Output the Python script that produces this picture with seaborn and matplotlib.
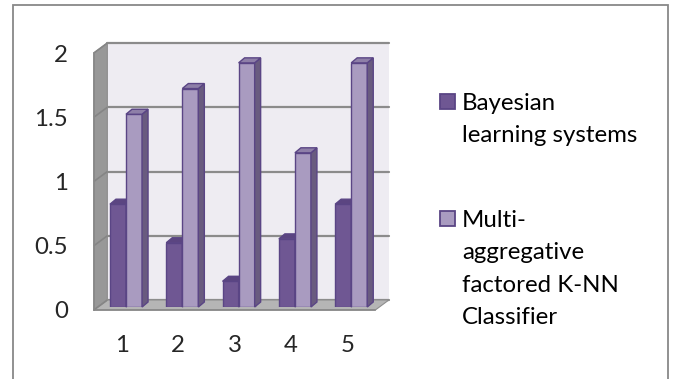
import numpy as np
import pandas as pd
import matplotlib
matplotlib.use("Agg")
import matplotlib.pyplot as plt
from matplotlib.patches import Polygon, Rectangle
import seaborn as sns

# ---- data -------------------------------------------------------------
categories = ["1", "2", "3", "4", "5"]
bayesian = [0.8, 0.5, 0.2, 0.53, 0.8]
knn = [1.5, 1.7, 1.9, 1.2, 1.9]
series_names = ["Bayesian learning systems",
                "Multi-aggregative factored K-NN Classifier"]
legend_lines = [["Bayesian", "learning systems"],
                ["Multi-", "aggregative", "factored K-NN", "Classifier"]]
y_ticks = [0, 0.5, 1, 1.5, 2]
y_tick_labels = ["0", "0.5", "1", "1.5", "2"]

df = pd.DataFrame({
    "run": categories * 2,
    "value": bayesian + knn,
    "method": [series_names[0]] * len(categories) + [series_names[1]] * len(categories),
})

# ---- style ------------------------------------------------------------
sns.set_style("white")
plt.rcParams["font.family"] = ["Lato", "DejaVu Sans"]
FS = 17.3

face = ["#6F5793", "#A99BC0"]
top_face = ["#5B4581", "#8E7FA8"]
side_face = ["#5A4776", "#695B7F"]
edge = "#5A4585"

W, H = 673, 379
fig = plt.figure(figsize=(W / 100, H / 100), dpi=100)

# plane of the bars, in pixels (top-left origin)
left, base = 97.85, 307.0
pw, ph = 281.5, 257.0
xmin, xmax, ymin, ymax = -0.5, 4.5, 0.0, 2.0


def axes_rect(dx_px, dy_px):
    """Axes rectangle for the plane shifted right by dx_px and up by dy_px."""
    return [(left + dx_px) / W, (H - base + dy_px) / H, pw / W, ph / H]


ax_back = fig.add_axes(axes_rect(9.5, 7))
ax = fig.add_axes(axes_rect(0, 0))
ax_front = fig.add_axes(axes_rect(-4, -3))
for a in (ax_back, ax, ax_front):
    a.set_xlim(xmin, xmax)
    a.set_ylim(ymin, ymax)

xpp = (xmax - xmin) / pw   # data units per pixel
ypp = (ymax - ymin) / ph

# ---- back wall, side wall and floor -----------------------------------
ax_back.set_facecolor("#EEECF2")
for s in ax_back.spines.values():
    s.set_visible(False)
ax_back.set_xticks([])
ax_back.set_yticks(y_ticks)
ax_back.tick_params(axis="y", length=0, labelleft=False)
ax_back.grid(axis="y", color="#8B8B8B", lw=1.6)
for gl in ax_back.get_ygridlines():
    gl.set_clip_on(False)

fdx, fdy = -13.5 * xpp, -10 * ypp   # from back plane to front plane
wall = Polygon([(xmin, ymin), (xmin, ymax), (xmin + fdx, ymax + fdy), (xmin + fdx, ymin + fdy)],
               closed=True, facecolor="#989898", edgecolor="#8E8E8E", lw=0.8,
               clip_on=False, zorder=3)
ax_back.add_patch(wall)
floor = Polygon([(xmin, ymin), (xmax, ymin), (xmax + fdx, ymin + fdy), (xmin + fdx, ymin + fdy)],
                closed=True, facecolor="#B5B5B5", edgecolor="#8E8E8E", lw=0.8,
                clip_on=False, zorder=3)
ax_back.add_patch(floor)
for v in y_ticks:
    ax_back.plot([xmin, xmin + fdx], [v, v + fdy], color="#858585", lw=1.2,
                 clip_on=False, zorder=4, solid_capstyle="butt")

# ---- bars -------------------------------------------------------------
sns.barplot(data=df, x="run", y="value", hue="method", hue_order=series_names,
            palette=face, saturation=1, width=0.57, errorbar=None,
            edgecolor=edge, linewidth=1.0, legend=False, ax=ax)
ax.set_xlim(xmin, xmax)
ax.set_ylim(ymin, ymax)
ax.axis("off")

ddx, ddy = 6 * xpp, 5 * ypp   # depth of each bar
for k, cont in enumerate(ax.containers):
    z = 2 + k
    for bar in cont.patches:
        bar.set_zorder(z)
        x0, w, h = bar.get_x(), bar.get_width(), bar.get_height()
        side = Polygon([(x0 + w, 0), (x0 + w + ddx, ddy), (x0 + w + ddx, h + ddy), (x0 + w, h)],
                       closed=True, facecolor=side_face[k], edgecolor=edge, lw=1.0,
                       zorder=z + 0.1, clip_on=False)
        top = Polygon([(x0, h), (x0 + w, h), (x0 + w + ddx, h + ddy), (x0 + ddx, h + ddy)],
                      closed=True, facecolor=top_face[k], edgecolor=edge, lw=1.0,
                      zorder=z + 0.1, clip_on=False)
        ax.add_patch(side)
        ax.add_patch(top)

# ---- front axes (ticks and labels) -------------------------------------
ax_front.patch.set_visible(False)
for s in ("top", "right"):
    ax_front.spines[s].set_visible(False)
for s in ("left", "bottom"):
    ax_front.spines[s].set_color("#888888")
    ax_front.spines[s].set_linewidth(1.2)
ax_front.set_yticks(y_ticks)
ax_front.set_yticklabels(y_tick_labels, fontsize=FS)
ax_front.tick_params(axis="y", length=5, width=1.2, color="#888888", pad=13.5)
ax_front.set_xticks(np.arange(xmin, xmax + 0.01, 1.0))
ax_front.set_xticklabels([])
ax_front.set_xticks(range(len(categories)), minor=True)
ax_front.set_xticklabels(categories, minor=True, fontsize=FS)
ax_front.tick_params(axis="x", which="major", length=6, width=1.2, color="#888888")
ax_front.tick_params(axis="x", which="minor", length=0, pad=18)

# ---- legend -------------------------------------------------------------
line_gap = 32.3
first_baselines = [110, 227]
for k, lines in enumerate(legend_lines):
    b0 = first_baselines[k]
    fig.patches.append(Rectangle((440 / W, 1 - (b0 - 1.5) / H), 15 / W, 15 / H,
                                 transform=fig.transFigure, facecolor=face[k],
                                 edgecolor=edge, lw=1.3))
    for i, line in enumerate(lines):
        fig.text(462 / W, 1 - (b0 + i * line_gap) / H, line, fontsize=FS,
                 ha="left", va="baseline", color="black")

# ---- chart border -------------------------------------------------------
fig.patches.append(Rectangle((13 / W, -0.05), (668 - 13) / W, 1.05 - 5 / H,
                             transform=fig.transFigure, fill=False,
                             edgecolor="#888888", lw=1.3))

fig.savefig("out.png", dpi=100)
